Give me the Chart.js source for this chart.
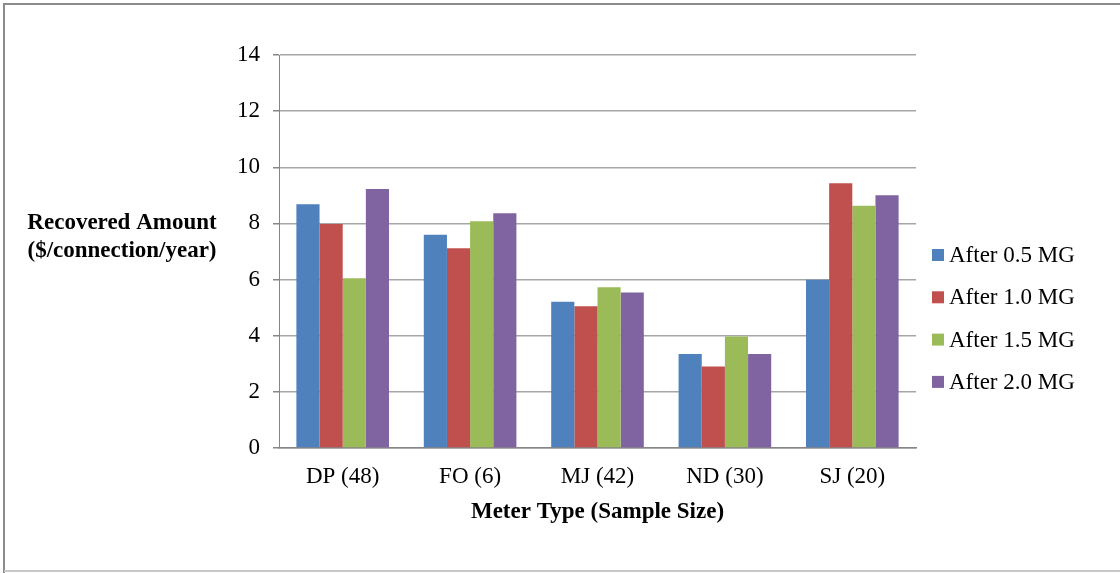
<!DOCTYPE html>
<html>
<head>
<meta charset="utf-8">
<script src="https://cdn.jsdelivr.net/npm/chart.js@4/dist/chart.umd.min.js"></script>
<style>
  html, body { margin: 0; padding: 0; background: #fff; }
  #wrap { position: relative; width: 1120px; height: 573px; }
</style>
</head>
<body>
<div id="wrap"><canvas id="grafico" width="1120" height="573"></canvas></div>
<script>
const categorias = ['DP (48)', 'FO (6)', 'MJ (42)', 'ND (30)', 'SJ (20)'];
const serie05 = [8.68, 7.60, 5.21, 3.35, 5.99];
const serie10 = [7.98, 7.12, 5.05, 2.90, 9.43];
const serie15 = [6.05, 8.08, 5.73, 3.97, 8.63];
const serie20 = [9.23, 8.36, 5.54, 3.35, 9.00];
const nomesSeries = ['After 0.5 MG', 'After 1.0 MG', 'After 1.5 MG', 'After 2.0 MG'];
const cores = ['#4f81bd', '#c0504d', '#9bbb59', '#8064a2'];
const tituloY = ['Recovered Amount', '($/connection/year)'];
const tituloX = 'Meter Type (Sample Size)';

const fonte = '"Liberation Serif", "Times New Roman", serif';

// moldura, titulo do eixo y e legenda desenhados a mao
const extras = {
    id: 'extras',
    afterDraw(chart) {
        const c = chart.ctx;
        c.save();
        c.strokeStyle = '#8c8c8c';
        c.lineWidth = 2;
        c.beginPath();
        c.moveTo(4, 573);
        c.lineTo(4, 4);
        c.lineTo(1120, 4);
        c.stroke();
        c.strokeStyle = '#c8c8c8';
        c.beginPath();
        c.moveTo(4, 571);
        c.lineTo(1120, 571);
        c.stroke();

        c.fillStyle = '#000';
        c.font = 'bold 23px ' + fonte;
        c.textAlign = 'center';
        c.textBaseline = 'middle';
        c.fillText(tituloY[0], 122, 223);
        c.fillText(tituloY[1], 122, 251);

        c.font = '23px ' + fonte;
        c.textAlign = 'left';
        chart.data.datasets.forEach((ds, i) => {
            const y = 255 + i * 42.3;
            c.fillStyle = ds.backgroundColor;
            c.fillRect(932, y - 6, 12, 12);
            c.fillStyle = '#000';
            c.fillText(ds.label, 949, y + 1);
        });
        c.restore();
    }
};

new Chart(document.getElementById('grafico'), {
    type: 'bar',
    data: {
        labels: categorias,
        datasets: [
            { label: nomesSeries[0], data: serie05, backgroundColor: cores[0] },
            { label: nomesSeries[1], data: serie10, backgroundColor: cores[1] },
            { label: nomesSeries[2], data: serie15, backgroundColor: cores[2] },
            { label: nomesSeries[3], data: serie20, backgroundColor: cores[3] }
        ]
    },
    options: {
        responsive: false,
        animation: false,
        devicePixelRatio: 1,
        categoryPercentage: 0.727,
        barPercentage: 1,
        layout: { padding: { top: 55, left: 0, right: 204, bottom: 47 } },
        scales: {
            y: {
                min: 0,
                max: 14,
                ticks: {
                    stepSize: 2,
                    color: '#000',
                    padding: 13,
                    font: { family: fonte, size: 23 }
                },
                grid: {
                    color: '#a6a6a6',
                    lineWidth: 1.5,
                    tickLength: 6,
                    tickColor: '#868686'
                },
                border: { display: true, color: '#868686', width: 1 },
                afterFit(scale) { scale.width = 279; }
            },
            x: {
                ticks: {
                    color: '#000',
                    padding: 7,
                    font: { family: fonte, size: 23 }
                },
                grid: { display: false },
                border: { display: true, color: '#868686', width: 1.5 },
                title: {
                    display: true,
                    text: tituloX,
                    color: '#000',
                    padding: { top: 0, bottom: 0 },
                    font: { family: fonte, size: 23, weight: 'bold' }
                },
                afterFit(scale) { scale.height = 78; }
            }
        },
        plugins: {
            legend: { display: false },
            tooltip: { enabled: false }
        }
    },
    plugins: [extras]
});
</script>
</body>
</html>
